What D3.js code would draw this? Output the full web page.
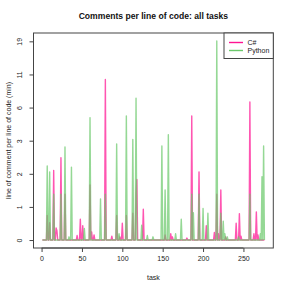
<!DOCTYPE html>
<html><head><meta charset="utf-8">
<script src="https://cdn.jsdelivr.net/npm/d3@7"></script>
<style>body{margin:0;background:#fff}svg{display:block}text{font-family:"Liberation Sans",Arial,Helvetica,sans-serif}</style>
</head><body><svg id="c" width="291" height="291"></svg>
<script>
const csharp = [
0,0,0,0,0,0,0.45,0,0,0.3,0,0,0,0,1.86,0,0,0.2,0.15,0,
0,0,0,2.47,0,0,0,0,1.0,0,0,0,0,0,0,0,0,0,0,0,
0,0,0,0.07,0,0,0,0.37,0,0,0.24,0,0,0,0,0,0,0,0,1.3,
0,0.13,0,0,0.08,0,0,0,0,0,0,0,0,0,0,0,0,0,10.3,0,
0,0,0,0,0,0,0.06,0,0,0,0,0,0.45,0,0,0,0.05,0,0,0.29,
0,0,0,0,0.45,0,0,0,0,0,0,0,0.5,0,0,0,1.0,1.5,0,0,
0,0,0,0,0,0.59,0,0,0,0,0,0,0,0,0,0,0,0,0,0,
0,0,0,0,0,0,0,0,0,0,0,0,0.08,0,0,0,0,0,0,0.1,
0,0.05,0,0,0,0,0,0,0,0,0,0,0,0,0,0,0,0,0,0.03,
0,0,0,0,0,5.5,0,0,0,0,0,0,0,0,1.8,0,0,0,0,0,
0,0,0,0.24,0,0,0,0,0,0,0,0,0,0.12,0,0,1.0,0,0.1,0,
0,1.13,0,0,0,0,0,0.05,0,0,0,0,0,0,0,0,0,0,0,0,
0.29,0,0,0,0.49,0,0.06,0,0,0,0,0,0,0,0,0,0,7.04,0,0,
0,0,0.1,0,0,0.53,0,0.08,0,0,0,0,0,0,0,0];
const python = [
0,0,0,0,0,0,2.06,0,0,1.8,0,0,0,0,1.0,0,0,0,0,0,
0,0,0,1.0,0,0,0,0,3.07,0,0,0,0,0.05,0,0,2.0,0,0,0,
0,0,0,0,0,0,0,0,0,0,0,0,0.19,0,0,0,0,0,0,5.35,
0,0,0,0,0,0,0,0,0,0,0,0,0.86,0,0,0,0,0,1.0,0,
0,0,0,0,0,0,0,0,0,0,0,0,3.27,0,0,0.1,0,0,0,0,
0,0,0,0,5.5,0,0,0,0,0,0,0,3.57,0,0,0,7.5,0,0,0,
0,0,0,0.25,0,0,0,0,0,0,0.07,0,0,0,0,0,0,0.05,0,0,
0,0,0,0,0,0,0,0,3.14,0,0,0,1.13,0,0,0,3.9,0,0,0,
0,0,0,0,0,0.1,0,0,0,0,0,0,0.37,0,0,0,0,0,0,0,
0,0,0,0,0,1.0,0,0.51,0,0,0,0,0,0,1.0,0,0,0,0,0.61,
0,0,0,0,0,0.5,0,0,0,0,0,0,0,0,0,0,19.2,0,0,0,
0,0.5,0,0,0.33,0,0.1,0,0,0.05,0,0,0,0,0,0,0,0,0,0,
0,0,0,0.05,0,0,0,0,0,0,0,0,0,0,0,0,0,1.0,0,0,
0,0,0,0,0,0,0,0,0,0,0.1,0,1.6,0,3.14,0];
const seriesNames = ["C#", "Python"];
const xTicks = [0, 50, 100, 150, 200, 250];
const yTickPos = [0, 0.5, 1, 1.5, 2, 2.5, 3];      // log1p units
const yTickLabels = ["0", "1", "2", "3", "6", "11", "19"];
const colors = ["#FF1493", "#6CC96C"];

const svg = d3.select("#c");
const L = 33.5, R = 273.3, T = 33, B = 248;
const n = csharp.length;
const x = d3.scaleLinear().domain([1 - 0.04 * (n - 1), n + 0.04 * (n - 1)]).range([L, R]);
const allT = csharp.concat(python).map(v => Math.log1p(v));
const tmax = d3.max(allT);
const y = d3.scaleLinear().domain([-0.04 * tmax, tmax * 1.04]).range([B, T]);

const line = d3.line().x((d, i) => x(i + 1)).y(d => y(Math.log1p(d)));
[csharp, python].forEach((s, k) => {
  svg.append("path").datum(s).attr("d", line).attr("fill", "none")
    .attr("stroke", colors[k]).attr("stroke-opacity", 0.72).attr("stroke-width", 1.4)
    .attr("stroke-linejoin", "round");
});

// axes
const xAxis = d3.axisBottom(x).tickValues(xTicks).tickSize(4).tickPadding(4);
const gx = svg.append("g").attr("transform", `translate(0,${B})`).call(xAxis);
gx.select(".domain").remove();
gx.append("line").attr("x1", x(xTicks[0])).attr("x2", x(xTicks[xTicks.length - 1])).attr("stroke", "#444");
const yAxis = d3.axisLeft(y).tickValues(yTickPos).tickFormat((d, i) => yTickLabels[i]).tickSize(4).tickPadding(3);
const gy = svg.append("g").attr("transform", `translate(${L},0)`).call(yAxis);
gy.select(".domain").remove();
[gx, gy].forEach(g => {
  g.selectAll(".tick line").attr("stroke", "#444");
  g.selectAll("text").attr("font-size", 7).attr("fill", "#222").attr("font-family", "Liberation Sans, Arial, sans-serif");
});
gy.selectAll(".tick text").attr("transform", function () {
  const t = d3.select(this); return null;
}).each(function () {
  const tk = d3.select(this);
  tk.attr("text-anchor", "middle").attr("x", null).attr("dy", null)
    .attr("transform", "translate(-12,0) rotate(-90)").attr("dy", "0.1em");
});

// box
svg.append("rect").attr("x", L).attr("y", T).attr("width", R - L).attr("height", B - T)
  .attr("fill", "none").attr("stroke", "#444").attr("stroke-width", 1);

// titles
svg.append("text").attr("x", (L + R) / 2).attr("y", 19).attr("text-anchor", "middle")
  .attr("font-weight", "bold").attr("font-size", 8.6).attr("fill", "#111")
  .text("Comments per line of code: all tasks");
svg.append("text").attr("x", (L + R) / 2).attr("y", 280).attr("text-anchor", "middle")
  .attr("font-size", 7).attr("fill", "#222").text("task");
svg.append("text").attr("transform", `translate(10.5,${(T + B) / 2}) rotate(-90)`).attr("text-anchor", "middle")
  .attr("font-size", 7).attr("fill", "#222").text("line of comment per line of code (min)");

// legend
const lg = svg.append("g");
lg.append("rect").attr("x", 224).attr("y", T).attr("width", R - 224).attr("height", 25.5)
  .attr("fill", "#fff").attr("stroke", "#444");
seriesNames.forEach((nm, i) => {
  const yy = 42.5 + i * 8;
  lg.append("line").attr("x1", 229).attr("x2", 243).attr("y1", yy).attr("y2", yy)
    .attr("stroke", colors[i]).attr("stroke-width", 1.4);
  lg.append("text").attr("x", 247.5).attr("y", yy + 2.4).attr("font-size", 7).attr("fill", "#222").text(nm);
});
</script></body></html>
